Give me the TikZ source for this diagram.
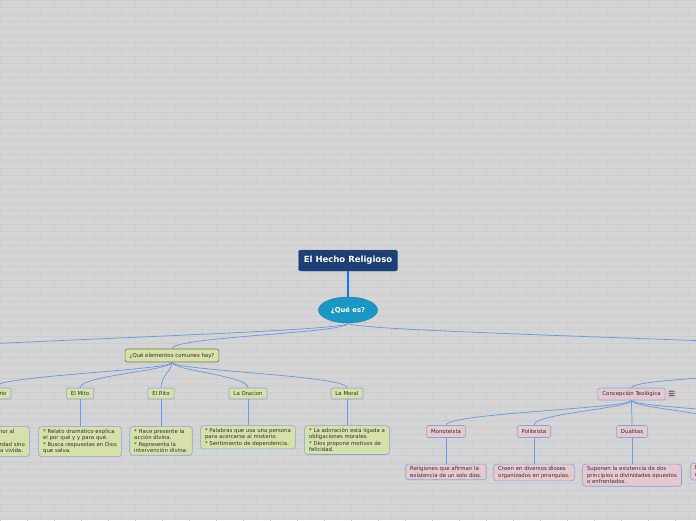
\documentclass[tikz,border=0pt]{standalone}
\usepackage{fontspec}
\setmainfont{DejaVu Sans}
\usetikzlibrary{positioning,shapes.geometric}
\definecolor{wallgray}{HTML}{D4D4D6}
\definecolor{mortar}{HTML}{CDCDCF}
\definecolor{titleblue}{HTML}{1C3F74}
\definecolor{ovalblue}{HTML}{1B97C3}
\definecolor{trunkblue}{HTML}{1D6FE0}
\definecolor{linkblue}{HTML}{6B9BE0}
\definecolor{leafgreen}{HTML}{D6E1A9}
\definecolor{olive}{HTML}{6F7E45}
\definecolor{edgeblue}{HTML}{86A7DA}
\definecolor{rosefill}{HTML}{E6C8CE}
\definecolor{inkgray}{HTML}{333333}
\tikzset{
  topic/.style={draw=titleblue!80!white, fill=titleblue, rounded corners=2pt, text=white,
    font=\fontsize{8.5}{10}\selectfont\bfseries, minimum width=99pt, minimum height=21pt, inner sep=2pt},
  oval/.style={ellipse, draw=ovalblue!85!black, fill=ovalblue, text=white,
    font=\fontsize{6.8}{8}\selectfont\bfseries, minimum width=59pt, minimum height=26pt, inner sep=0pt},
  tag/.style={draw=edgeblue, line width=0.6pt, rounded corners=2pt, text=inkgray,
    font=\fontsize{5.4}{6.5}\selectfont, minimum height=11pt, inner xsep=4.5pt, inner ysep=1pt},
  greentag/.style={tag, fill=leafgreen},
  mainsub/.style={tag, fill=leafgreen, draw=olive, minimum height=13pt},
  rosetag/.style={tag, fill=rosefill, minimum height=12pt},
  note/.style={draw=edgeblue, line width=0.6pt, rounded corners=3pt, text=inkgray, align=left,
    font=\fontsize{5.4}{6.5}\selectfont, inner xsep=4.5pt, inner ysep=2.5pt},
  greennote/.style={note, fill=leafgreen},
  rosenote/.style={note, fill=rosefill},
  link/.style={draw=linkblue, line width=0.7pt},
  trunk/.style={draw=trunkblue, line width=1.1pt}
}

\begin{document}
\begin{tikzpicture}[x=1pt, y=-1pt]
  \useasboundingbox (0,0) rectangle (696,520);
  % brick wall
  \fill[wallgray] (0,0) rectangle (696,520);
  \foreach \r in {0,...,74} {
    \draw[mortar, line width=0.4pt] (0,\r*7) -- (696,\r*7);
    \foreach \c in {0,...,26}
      \draw[mortar, line width=0.4pt] ({\c*27+mod(\r,2)*13.5},\r*7) -- ++(0,7);
  }

  \node[topic] (title) at (348,260.5) {El Hecho Religioso};
  \node[oval] (oval) at (348,310) {¿Qué es?};
  \draw[trunk] (title) -- (oval);

  % branches leaving the frame
  \coordinate (farleft) at (-150,356);
  \coordinate (farright) at (950,356);
  \coordinate (tiposout) at (900,362);

  \node[mainsub] (comunes) at (172,355.5) {¿Qué elementos comunes hay?};

  \draw[link] (oval.south) .. controls +(0,10) and +(0,-12) .. (comunes.north);
  \draw[link] (oval.south) .. controls +(0,10) and +(0,-12) .. (farleft);
  \draw[link] (oval.south) .. controls +(0,10) and +(0,-12) .. (farright);

  % elementos comunes
  \node[greentag] (misterio) at (-7.5,393.5) {El Misterio};
  \node[greentag] (mito) at (80,393.5) {El Mito};
  \node[greentag] (rito) at (161,393.5) {El Rito};
  \node[greentag] (oracion) at (248,393.5) {La Oracion};
  \node[greentag] (moral) at (347,393.5) {La Moral};

  \node[greennote, below=27pt of misterio] (misterio-txt) {* Es algo superior al\\hombre.\\* No es una verdad sino\\una experiencia vivida.};
  \node[greennote, below=27pt of mito] (mito-txt) {* Relato dramático explica\\el por qué y y para qué.\\* Busca respuestas en Dios\\que salva.};
  \node[greennote, below=27pt of rito] (rito-txt) {* Hace presente la\\acción divina.\\* Representa la\\intervención divina.};
  \node[greennote, below=26pt of oracion] (oracion-txt) {* Palabras que usa una persona\\para acercarse al misterio.\\* Sentimiento de dependencia.};
  \node[greennote, below=26pt of moral] (moral-txt) {* La adoración está ligada a\\obligaciones morales.\\* Dios propone motivos de\\felicidad.};

  \foreach \k in {misterio,mito,rito,oracion,moral} {
    \draw[link] (comunes.south) .. controls +(0,8) and +(0,-12) .. (\k.north);
    \draw[link] (\k.south) -- (\k-txt.north);
  }

  % concepcion teologica
  \node[rosetag] (concepcion) at (631.5,394) {Concepción Teológica};
  \node[fill=rosefill!85!gray, text=inkgray, font=\fontsize{7}{8}\selectfont, inner sep=1pt,
    right=2pt of concepcion] (menu) {☰};
  \draw[link] (tiposout) .. controls +(0,10) and +(0,-12) .. (concepcion.north);

  \node[rosetag] (mono) at (446,431.5) {Monoteista};
  \node[rosetag] (poli) at (534,431.5) {Politeista};
  \node[rosetag] (dual) at (632,431.5) {Dualitas};
  \coordinate (ateo) at (735,426);
  \coordinate (otro) at (830,426);

  \node[rosenote, below=26pt of mono] (mono-txt) {Religiones que afirman la\\existencia de un solo dios.};
  \node[rosenote, below=26pt of poli] (poli-txt) {Creen en diversos dioses\\organizados en jerarquías.};
  \node[rosenote, below=26pt of dual] (dual-txt) {Suponen la existencia de dos\\principios o divinidades opuestos\\o enfrentados.};
  \node[rosenote, anchor=north west] (ateo-txt) at (690,463) {Niegan la existencia de\\cualquier divinidad.};

  \foreach \k in {mono,poli,dual} {
    \draw[link] (concepcion.south) .. controls +(0,8) and +(0,-12) .. (\k.north);
    \draw[link] (\k.south) -- (\k-txt.north);
  }
  \draw[link] (concepcion.south) .. controls +(0,8) and +(0,-12) .. (ateo);
  \draw[link] (concepcion.south) .. controls +(0,8) and +(0,-12) .. (otro);
\end{tikzpicture}
\end{document}
